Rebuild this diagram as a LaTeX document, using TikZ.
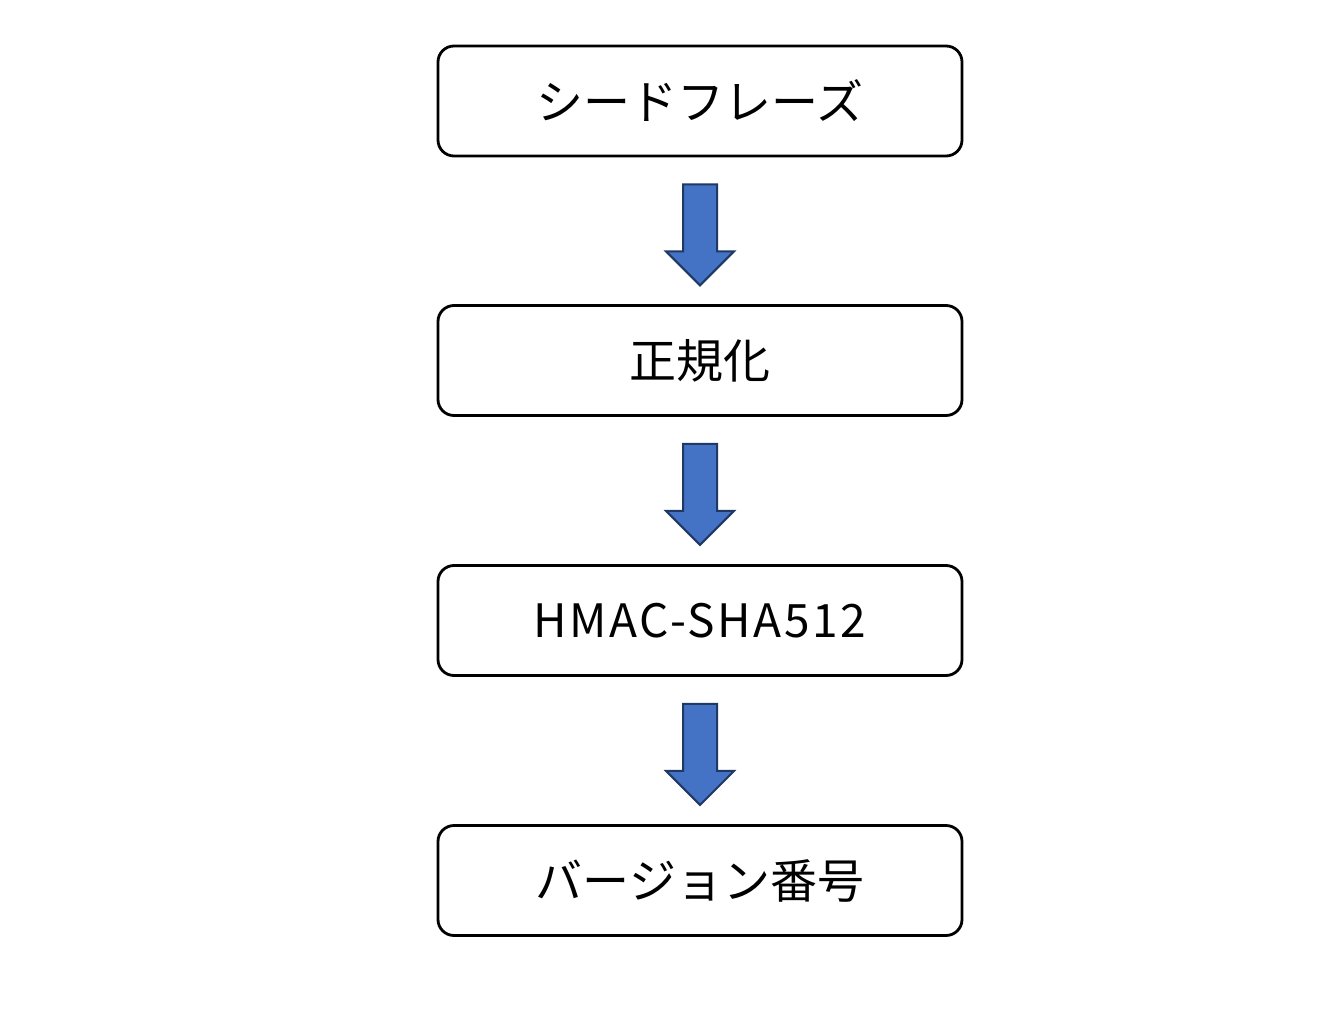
\documentclass[tikz,border=0pt]{standalone}
\usepackage{fontspec}
\newfontfamily\jpfont{Noto Sans CJK JP}
\newfontfamily\jplatin[LetterSpace=5.5]{Noto Sans CJK JP}
\usetikzlibrary{calc}
\definecolor{arrfill}{HTML}{4472C4}
\definecolor{arrline}{HTML}{1F3864}
\tikzset{
  stepbox/.style={draw=black, line width=2.8pt, rounded corners=16pt, minimum width=524pt, minimum height=110pt, inner sep=0pt, font=\jpfont\fontsize{47}{50}\selectfont, fill=white},
  blockarrow/.style={fill=arrfill, draw=arrline, line width=2pt, line join=miter}
}
\begin{document}
\begin{tikzpicture}[x=1pt,y=1pt]
\useasboundingbox (0,0) rectangle (1339,-1014);
\fill[white] (0,0) rectangle (1339,-1014);
\node[stepbox] (a) at (700,-101) {シードフレーズ};
\node[stepbox] (b) at (700,-360.5) {正規化};
\node[stepbox] (c) at (700,-620.5) {\jplatin\fontsize{46}{50}\selectfont HMAC-SHA512};
\node[stepbox] (d) at (700,-880.5) {バージョン番号};
\foreach \u/\v in {a/b,b/c,c/d}{
  \path (\u.south) ++(0,-27) coordinate (t\u);
  \draw[blockarrow] (t\u) ++(-17,0) -- ++(0,-67) -- ++(-17,0) -- ++(34,-34) -- ++(34,34) -- ++(-17,0) -- ++(0,67) -- cycle;
}
\end{tikzpicture}
\end{document}
